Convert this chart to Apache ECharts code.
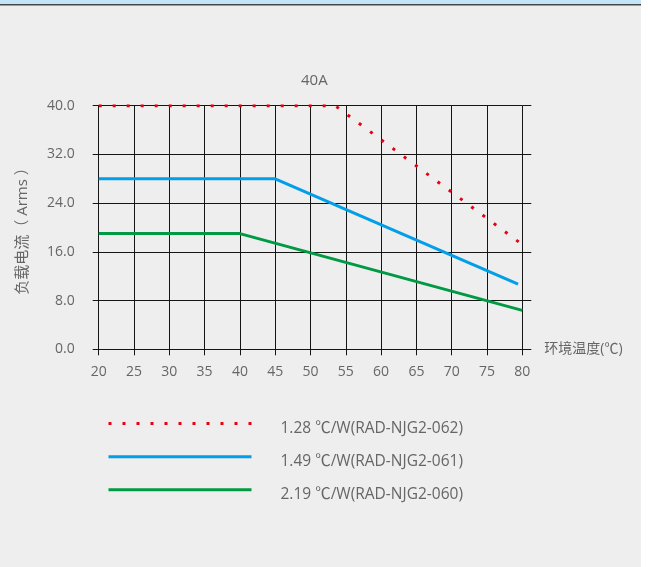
<!DOCTYPE html>
<html>
<head>
<meta charset="utf-8">
<title>40A</title>
<script src="https://cdn.jsdelivr.net/npm/echarts@6/dist/echarts.min.js"></script>
<style>
    html, body { margin: 0; padding: 0; background: #fff; }
    #main { width: 648px; height: 567px; }
</style>
</head>
<body>
<div id="main"></div>
<script>
// 数据
var seriesNames = ['1.28 ℃/W(RAD-NJG2-062)', '1.49 ℃/W(RAD-NJG2-061)', '2.19 ℃/W(RAD-NJG2-060)']
var data062 = [[20, 40], [53.5, 40], [80, 17.2]]
var data061 = [[20, 28], [45, 28], [79.4, 10.7]]
var data060 = [[20, 19], [40, 19], [80, 6.4]]
var xTicks = [20, 80, 5]   // min, max, interval
var yTicks = [0, 40, 8]

var font = '"Open Sans", "Noto Sans CJK SC", sans-serif'
var gridColor = '#151515'
var textColor = '#666'

var myChart = echarts.init(document.getElementById('main'))

var option = {
    backgroundColor: '#eeeeee',
    animation: false,
    textStyle: { fontFamily: font },
    /* 顶部蓝条和右侧白边 */
    graphic: [
        { type: 'rect', shape: { x: 0, y: 0, width: 641, height: 4 }, style: { fill: '#c2e5f7' } },
        { type: 'rect', shape: { x: 0, y: 4, width: 641, height: 1 }, style: { fill: '#474747' } },
        { type: 'rect', shape: { x: 0, y: 5, width: 641, height: 1 }, style: { fill: '#9d9d9d' } },
        { type: 'rect', shape: { x: 641, y: 0, width: 7, height: 567 }, style: { fill: '#ffffff' } }
    ],
    title: {
        text: '40A',
        left: 296,
        top: 68,
        textStyle: { color: textColor, fontSize: 15, fontWeight: 'normal', fontFamily: font }
    },
    grid: { left: 98.7, right: 125.7, top: 105.7, bottom: 217.7 },
    legend: {
        orient: 'vertical',
        left: 102,
        top: 413,
        itemWidth: 143,
        itemHeight: 14,
        itemGap: 14.5,
        itemStyle: { opacity: 0 },
        lineStyle: { width: 3 },
        formatter: function (name) { return '{t|' + name + '}' },
        textStyle: {
            color: textColor,
            fontSize: 15.5,
            fontFamily: font,
            padding: [0, 0, 0, 24],
            rich: {
                t: { color: textColor, fontSize: 15.5, fontFamily: font, lineHeight: 26, verticalAlign: 'bottom' }
            }
        },
        data: seriesNames
    },
    xAxis: [{
        type: 'value',
        min: xTicks[0],
        max: xTicks[1],
        interval: xTicks[2],
        name: '环境温度(℃)',
        nameGap: 22,
        nameTextStyle: { color: textColor, fontSize: 14, fontFamily: font },
        axisLine: { show: true, lineStyle: { color: gridColor, width: 1 } },
        axisTick: { show: true, length: 6, lineStyle: { color: gridColor } },
        axisLabel: { color: textColor, fontSize: 14, margin: 16, fontFamily: font },
        splitLine: { show: true, lineStyle: { color: gridColor, width: 1 } }
    }, {
        /* 顶部伸出的短线 */
        type: 'value',
        position: 'top',
        min: xTicks[0],
        max: xTicks[1],
        interval: xTicks[2],
        axisLine: { show: false },
        axisTick: { show: true, length: 6, lineStyle: { color: gridColor } },
        axisLabel: { show: false },
        splitLine: { show: false }
    }],
    yAxis: [{
        type: 'value',
        min: yTicks[0],
        max: yTicks[1],
        interval: yTicks[2],
        name: '负载电流（ Arms ）',
        nameLocation: 'middle',
        nameGap: 68,
        nameTextStyle: { color: textColor, fontSize: 15, fontFamily: font },
        axisLine: { show: true, lineStyle: { color: gridColor, width: 1 } },
        axisTick: { show: true, length: 6, lineStyle: { color: gridColor } },
        axisLabel: {
            color: textColor,
            fontSize: 14,
            margin: 24,
            fontFamily: font,
            formatter: function (v) { return v.toFixed(1) }
        },
        splitLine: { show: true, lineStyle: { color: gridColor, width: 1 } }
    }, {
        /* 右侧伸出的短线 */
        type: 'value',
        position: 'right',
        min: yTicks[0],
        max: yTicks[1],
        interval: yTicks[2],
        axisLine: { show: false },
        axisTick: { show: true, length: 9, lineStyle: { color: gridColor } },
        axisLabel: { show: false },
        splitLine: { show: false }
    }],
    series: [{
        name: seriesNames[0],
        type: 'line',
        symbol: 'none',
        data: data062,
        itemStyle: { color: '#e60012' },
        lineStyle: { color: '#e60012', width: 3, type: [3, 11], cap: 'butt' }
    }, {
        name: seriesNames[1],
        type: 'line',
        symbol: 'none',
        data: data061,
        itemStyle: { color: '#009fe8' },
        lineStyle: { color: '#009fe8', width: 3 }
    }, {
        name: seriesNames[2],
        type: 'line',
        symbol: 'none',
        data: data060,
        itemStyle: { color: '#009a44' },
        lineStyle: { color: '#009a44', width: 3 }
    }]
}

myChart.setOption(option)
</script>
</body>
</html>
